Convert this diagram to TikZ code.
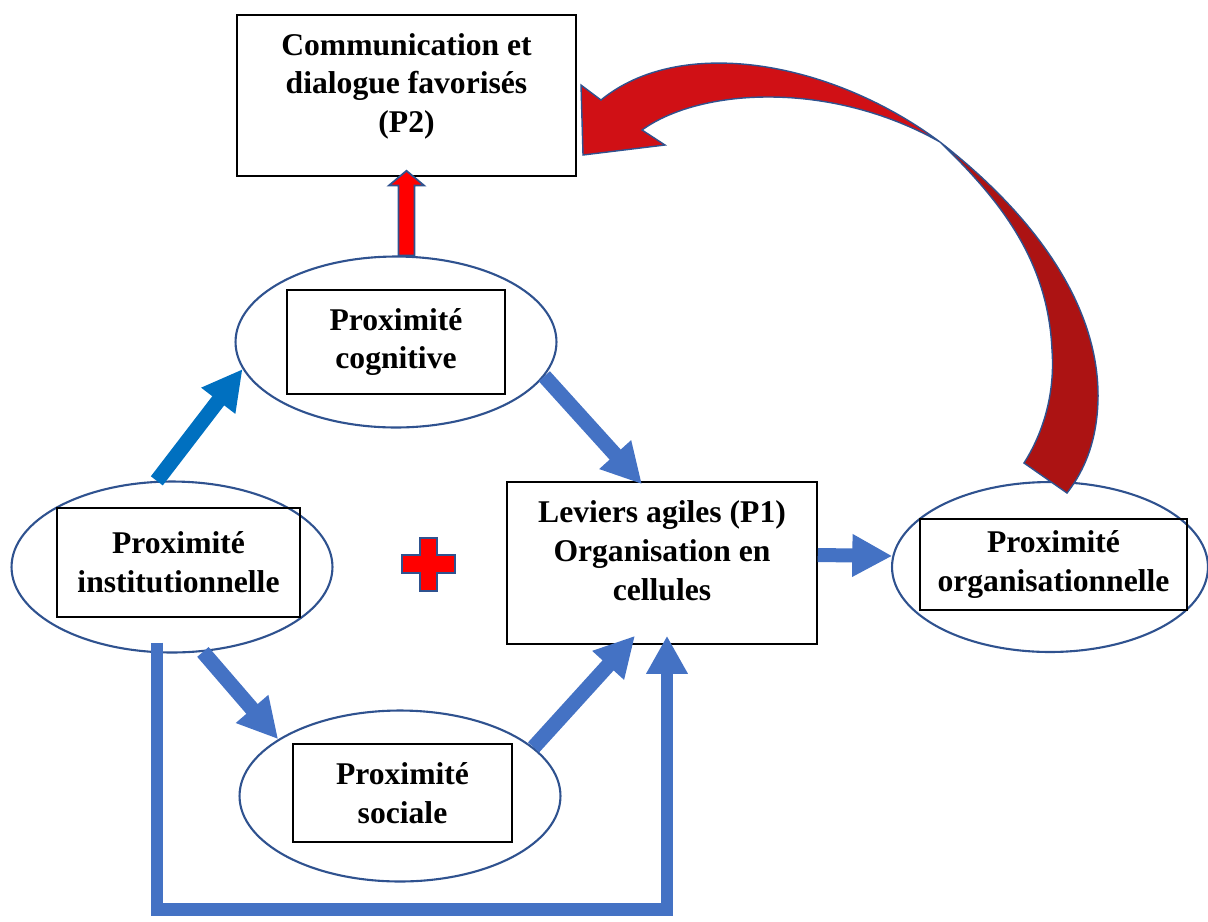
\documentclass[tikz,border=0pt]{standalone}
\usepackage{fontspec}
\setmainfont{Liberation Serif}
\usepackage{tikz}
\usepackage{xcolor}
\usetikzlibrary{shapes.geometric,arrows.meta,calc}

\definecolor{ringblue}{HTML}{2F528F}
\definecolor{flowblue}{HTML}{4472C4}
\definecolor{arrowsky}{HTML}{0070C0}
\definecolor{ribbonred}{HTML}{D01015}
\definecolor{ribbondark}{HTML}{AC1313}

\tikzset{
  ring/.style={ellipse, draw=ringblue, line width=1.2pt, minimum width=6.42cm, minimum height=3.42cm},
  tag/.style={rectangle, draw=black, line width=0.9pt, align=center, inner sep=0pt, font=\bfseries\fontsize{18}{22}\selectfont},
  flow/.style={draw=flowblue, line width=0.3cm, -{Triangle[length=0.8cm,width=0.8cm]}},
  blockred/.style={fill=red, draw=ringblue, line width=1pt},
}

\begin{document}
\begin{tikzpicture}[x=0.02cm, y=-0.02cm]
\useasboundingbox (0,0) rectangle (1208,921);

\node[ring] (cog) at (396,342) {};
\node[ring] (inst) at (172,567) {};
\node[ring] (soc) at (400,796) {};
\node[ring, minimum width=6.32cm, minimum height=3.4cm] (org) at (1050,567) {};

\node[tag, minimum width=6.78cm, minimum height=3.22cm] (p2) at (406.5,95.5) {Communication et\\dialogue favorisés\\(P2)\rule[-0.5cm]{0pt}{0.5cm}};
\node[tag, minimum width=6.2cm, minimum height=3.24cm] (lev) at (662,563) {Leviers agiles (P1)\\Organisation en\\cellules\rule[-0.5cm]{0pt}{0.5cm}};
\node[tag, minimum width=4.36cm, minimum height=2.08cm] (cogt) at (396,342) {Proximité\\cognitive};
\node[tag, minimum width=4.86cm, minimum height=2.18cm] (instt) at (178.5,562.5) {Proximité\\institutionnelle};
\node[tag, minimum width=4.38cm, minimum height=1.96cm] (soct) at (402.5,793) {Proximité\\sociale};
\node[tag, minimum width=5.34cm, minimum height=1.82cm] (orgt) at (1053.5,564.5) {Proximité\\organisationnelle};

\draw[flow, draw=arrowsky] (inst.100) -- (cog.190);
\draw[flow] (cog.-13) -- ([xshift=-0.4cm,yshift=-0.06cm]lev.north);
\draw[flow] (inst.-70) -- (soc.155);
\draw[flow] (soc.20) -- ([xshift=-0.54cm,yshift=0.18cm]lev.south);
\draw[flow, line width=0.28cm] ([yshift=0.16cm]lev.east) -- (org.176);

\coordinate (instfoot) at ([xshift=-0.3cm,yshift=0.22cm]inst.south);
\coordinate (levfoot) at ([xshift=0.1cm,yshift=0.18cm]lev.south);
\draw[flow, line width=0.25cm, -{Triangle[length=0.76cm,width=0.78cm]}] (instfoot) -- ++(0,267) -| (levfoot);

\coordinate (upfoot) at (cog.north -| p2.south);
\coordinate (uptip) at ([yshift=0.12cm]p2.south);
\draw[blockred] ($(upfoot)+(-8,0)$) -- ($(upfoot)+(-8,-70)$) -- ($(upfoot)+(-17.5,-70)$) -- (uptip) -- ($(upfoot)+(17.5,-70)$) -- ($(upfoot)+(8,-70)$) -- ($(upfoot)+(8,0)$) -- cycle;

\draw[blockred] (420,538) -- (437,538) -- (437,555) -- (455,555) -- (455,573) -- (437,573) -- (437,591) -- (420,591) -- (420,573) -- (402,573) -- (402,555) -- (420,555) -- cycle;

\draw[fill=ribbonred, draw=ringblue, line width=0.8pt] (940,142) .. controls (830,60) and (680,35) .. (601,100) -- (581,85) -- (583,155) -- (665,145) -- (642,130) .. controls (700,88) and (830,80) .. (940,142) -- cycle;
\draw[fill=ribbondark, draw=ringblue, line width=0.8pt] (940,142) .. controls (1040,220) and (1100,310) .. (1098,400) .. controls (1097,440) and (1085,470) .. (1067,493) -- (1024,463) .. controls (1045,430) and (1055,390) .. (1052,350) .. controls (1048,260) and (1000,200) .. (940,142) -- cycle;
\end{tikzpicture}
\end{document}
